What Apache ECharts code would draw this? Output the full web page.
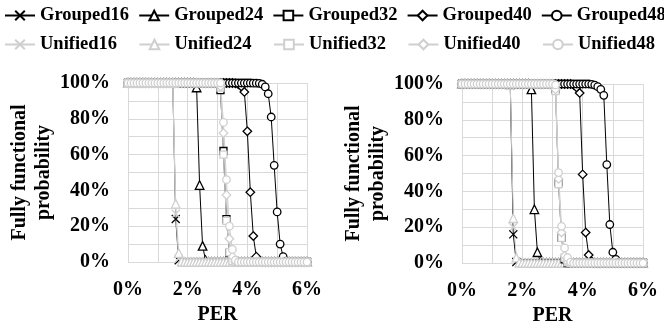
<!DOCTYPE html>
<html><head><meta charset="utf-8">
<script src="https://cdn.jsdelivr.net/npm/echarts@6/dist/echarts.min.js"></script>
<style>html,body{margin:0;padding:0;background:#fff}#c{width:664px;height:325px}</style>
</head><body><div id="c"></div>
<script>
// PER values (%), shared x positions
const PER = [0,0.1,0.2,0.3,0.4,0.5,0.6,0.7,0.8,0.9,
1,1.1,1.2,1.3,1.4,1.5,1.6,1.7,1.8,1.9,
2,2.1,2.2,2.3,2.4,2.5,2.6,2.7,2.8,2.9,
3,3.1,3.2,3.3,3.4,3.5,3.6,3.7,3.8,3.9,
4,4.1,4.2,4.3,4.4,4.5,4.6,4.7,4.8,4.9,
5,5.1,5.2,5.3,5.4,5.5,5.6,5.7,5.8,5.9,
6];
const GROUPED_NAMES = ['Grouped16','Grouped24','Grouped32','Grouped40','Grouped48'];
const UNIFIED_NAMES = ['Unified16','Unified24','Unified32','Unified40','Unified48'];

// ---- Left panel (fully functional probability, %) ----
const G16_L = [100,100,100,100,100,100,100,100,100,100,
100,100,100,100,100,100,24,1,0,0,
0,0,0,0,0,0,0,0,0,0,
0,0,0,0,0,0,0,0,0,0,
0,0,0,0,0,0,0,0,0,0,
0,0,0,0,0,0,0,0,0,0,
0];
const G24_L = [100,100,100,100,100,100,100,100,100,100,
100,100,100,100,100,100,100,100,100,100,
100,100,100,97.5,43,9,1,0,0,0,
0,0,0,0,0,0,0,0,0,0,
0,0,0,0,0,0,0,0,0,0,
0,0,0,0,0,0,0,0,0,0,
0];
const G32_L = [100,100,100,100,100,100,100,100,100,100,
100,100,100,100,100,100,100,100,100,100,
100,100,100,100,100,100,100,100,100,100,
99.5,96,62,24,5,0.5,0,0,0,0,
0,0,0,0,0,0,0,0,0,0,
0,0,0,0,0,0,0,0,0,0,
0];
const G40_L = [100,100,100,100,100,100,100,100,100,100,
100,100,100,100,100,100,100,100,100,100,
100,100,100,100,100,100,100,100,100,100,
100,100,100,100,100,100,99.8,99.3,98,95,
73,39,14.5,3,0.3,0,0,0,0,0,
0,0,0,0,0,0,0,0,0,0,
0];
const G48_L = [100,100,100,100,100,100,100,100,100,100,
100,100,100,100,100,100,100,100,100,100,
100,100,100,100,100,100,100,100,100,100,
100,100,100,100,100,100,100,100,100,100,
100,100,99.9,99.9,99.8,99.3,97.8,94,81,54,
28,10,3,0.5,0,0,0,0,0,0,
0];
const U16_L = [100,100,100,100,100,100,100,100,100,100,
100,100,100,100,100,100,27,2,0,0,
0,0,0,0,0,0,0,0,0,0,
0,0,0,0,0,0,0,0,0,0,
0,0,0,0,0,0,0,0,0,0,
0,0,0,0,0,0,0,0,0,0,
0];
const U24_L = [100,100,100,100,100,100,100,100,100,100,
100,100,100,100,100,100,32.5,5,0.3,0,
0,0,0,0,0,0,0,0,0,0,
0,0,0,0,0,0,0,0,0,0,
0,0,0,0,0,0,0,0,0,0,
0,0,0,0,0,0,0,0,0,0,
0];
const U32_L = [100,100,100,100,100,100,100,100,100,100,
100,100,100,100,100,100,100,100,100,100,
100,100,100,100,100,100,100,100,100,100,
100,97.4,60,23,5.5,0.5,0,0,0,0,
0,0,0,0,0,0,0,0,0,0,
0,0,0,0,0,0,0,0,0,0,
0];
const U40_L = [100,100,100,100,100,100,100,100,100,100,
100,100,100,100,100,100,100,100,100,100,
100,100,100,100,100,100,100,100,100,100,
100,98,72,37.5,13,3,0.3,0,0,0,
0,0,0,0,0,0,0,0,0,0,
0,0,0,0,0,0,0,0,0,0,
0];
const U48_L = [100,100,100,100,100,100,100,100,100,100,
100,100,100,100,100,100,100,100,100,100,
100,100,100,100,100,100,100,100,100,100,
100,100,78,46,20,7,1,0,0,0,
0,0,0,0,0,0,0,0,0,0,
0,0,0,0,0,0,0,0,0,0,
0];

// ---- Right panel ----
const G16_R = [100,100,100,100,100,100,100,100,100,100,
100,100,100,100,100,100,99.5,16,0.5,0,
0,0,0,0,0,0,0,0,0,0,
0,0,0,0,0,0,0,0,0,0,
0,0,0,0,0,0,0,0,0,0,
0,0,0,0,0,0,0,0,0,0,
0];
const G24_R = [100,100,100,100,100,100,100,100,100,100,
100,100,100,100,100,100,100,100,100,100,
100,100,100,97,30,6,0.5,0,0,0,
0,0,0,0,0,0,0,0,0,0,
0,0,0,0,0,0,0,0,0,0,
0,0,0,0,0,0,0,0,0,0,
0];
const G32_R = [100,100,100,100,100,100,100,100,100,100,
100,100,100,100,100,100,100,100,100,100,
100,100,100,100,100,100,100,100,100,100,
100,97,45,14,2,0,0,0,0,0,
0,0,0,0,0,0,0,0,0,0,
0,0,0,0,0,0,0,0,0,0,
0];
const G40_R = [100,100,100,100,100,100,100,100,100,100,
100,100,100,100,100,100,100,100,100,100,
100,100,100,100,100,100,100,100,100,100,
100,100,100,100,100,100,100,99.5,98,95,
49.5,17,4.5,0.8,0,0,0,0,0,0,
0,0,0,0,0,0,0,0,0,0,
0];
const G48_R = [100,100,100,100,100,100,100,100,100,100,
100,100,100,100,100,100,100,100,100,100,
100,100,100,100,100,100,100,100,100,100,
100,100,100,100,100,100,100,100,100,100,
100,100,100,99.8,99.4,98.5,97,93.7,55,21.5,
6,2,0.3,0,0,0,0,0,0,0,
0];
const U16_R = [100,100,100,100,100,100,100,100,100,100,
100,100,100,100,100,100,99,20,1,0,
0,0,0,0,0,0,0,0,0,0,
0,0,0,0,0,0,0,0,0,0,
0,0,0,0,0,0,0,0,0,0,
0,0,0,0,0,0,0,0,0,0,
0];
const U24_R = [100,100,100,100,100,100,100,100,100,100,
100,100,100,100,100,100,99.5,25,3,0.2,
0,0,0,0,0,0,0,0,0,0,
0,0,0,0,0,0,0,0,0,0,
0,0,0,0,0,0,0,0,0,0,
0,0,0,0,0,0,0,0,0,0,
0];
const U32_R = [100,100,100,100,100,100,100,100,100,100,
100,100,100,100,100,100,100,100,100,100,
100,100,100,100,100,100,100,100,100,100,
100,96,44,14,3,0.3,0,0,0,0,
0,0,0,0,0,0,0,0,0,0,
0,0,0,0,0,0,0,0,0,0,
0];
const U40_R = [100,100,100,100,100,100,100,100,100,100,
100,100,100,100,100,100,100,100,100,100,
100,100,100,100,100,100,100,100,100,100,
100,97,47,17,4,0.5,0,0,0,0,
0,0,0,0,0,0,0,0,0,0,
0,0,0,0,0,0,0,0,0,0,
0];
const U48_R = [100,100,100,100,100,100,100,100,100,100,
100,100,100,100,100,100,100,100,100,100,
100,100,100,100,100,100,100,100,100,100,
100,99.5,50.5,20.5,8.4,3,0.5,0,0,0,
0,0,0,0,0,0,0,0,0,0,
0,0,0,0,0,0,0,0,0,0,
0];

const FONT = 'Liberation Serif';
const BLACK = '#000000';
const GRAY = '#cfcfcf';
const GRID_C = '#d9d9d9';
const SYMBOLS = ['path://M0,0L10,10M10,0L0,10','triangle','rect','diamond','circle'];
const SIZES = [8, 8.5, 7, [8.5,8.5], 7.5];

function mk(name, vals, idx, k, color, z){
  return {
    name, type:'line', xAxisIndex: idx, yAxisIndex: idx,
    data: PER.map((x,i)=>[x, vals[i]]),
    symbol: SYMBOLS[k], symbolSize: SIZES[k], showAllSymbol: true,
    lineStyle: {color, width: 1},
    itemStyle: {color: '#ffffff', borderColor: color, borderWidth: 1.3},
    emphasis: {disabled: true}, silent: true, z: z, animation: false
  };
}
const G_L = [G16_L,G24_L,G32_L,G40_L,G48_L];
const U_L = [U16_L,U24_L,U32_L,U40_L,U48_L];
const G_R = [G16_R,G24_R,G32_R,G40_R,G48_R];
const U_R = [U16_R,U24_R,U32_R,U40_R,U48_R];

const series = [];
for (let k=0;k<5;k++) series.push(mk(GROUPED_NAMES[k], G_L[k], 0, k, BLACK, 2));
for (let k=0;k<5;k++) series.push(mk(UNIFIED_NAMES[k], U_L[k], 0, k, GRAY, 2));
// right panel
series.push(mk(UNIFIED_NAMES[0], U_R[0], 1, 0, GRAY, 2));
series.push(mk(GROUPED_NAMES[0], G_R[0], 1, 0, BLACK, 2));
series.push(mk(GROUPED_NAMES[1], G_R[1], 1, 1, BLACK, 2));
series.push(mk(UNIFIED_NAMES[1], U_R[1], 1, 1, GRAY, 2));
for (let k=2;k<5;k++) series.push(mk(GROUPED_NAMES[k], G_R[k], 1, k, BLACK, 2));
for (let k=2;k<5;k++) series.push(mk(UNIFIED_NAMES[k], U_R[k], 1, k, GRAY, 2));

const labelStyle = {fontFamily: FONT, fontWeight: 'bold', fontSize: 20, color: '#000'};
function xAx(idx){
  return {type:'value', gridIndex: idx, min:0, max:6, interval:2,
    axisLine:{show:false}, axisTick:{show:false},
    minorTick:{show:false, splitNumber:2},
    splitLine:{show:true, lineStyle:{color:GRID_C, width:1}},
    minorSplitLine:{show:true, lineStyle:{color:GRID_C, width:1}},
    axisLabel:Object.assign({margin:18, formatter:'{value}%'}, labelStyle),
    name:'PER', nameLocation:'middle', nameGap:43, nameTextStyle: labelStyle};
}
function yAx(idx){
  return {type:'value', gridIndex: idx, min:0, max:100, interval:20,
    axisLine:{show:false}, axisTick:{show:false},
    minorTick:{show:false, splitNumber:2},
    splitLine:{show:true, lineStyle:{color:GRID_C, width:1}},
    minorSplitLine:{show:true, lineStyle:{color:GRID_C, width:1}},
    axisLabel:Object.assign({margin:18, formatter:'{value}%'}, labelStyle),
    name:'Fully functional\nprobability', nameLocation:'middle', nameRotate:90, nameGap:60,
    nameTextStyle: Object.assign({lineHeight:24}, labelStyle)};
}
const legendText = {fontFamily: FONT, fontWeight: 'bold', fontSize: 18.5, color: '#000'};
const option = {
  animation: false,
  backgroundColor: '#fff',
  legend: [
    {data: GROUPED_NAMES, left: 4, top: 6, padding: 0, width: 700, itemWidth: 30, itemHeight: 12, itemGap: 9.1, textStyle: legendText, selectedMode:false},
    {data: UNIFIED_NAMES, left: 4, top: 35, padding: 0, width: 700, itemWidth: 30, itemHeight: 12, itemGap: 21.4, textStyle: legendText, selectedMode:false}
  ],
  grid: [
    {left: 128, top: 83, width: 179, height: 179, outerBoundsMode: 'none', containLabel: false},
    {left: 462, top: 84, width: 181, height: 179, outerBoundsMode: 'none', containLabel: false}
  ],
  xAxis: [xAx(0), xAx(1)],
  yAxis: [yAx(0), yAx(1)],
  series
};
const chart = echarts.init(document.getElementById('c'), null, {renderer:'canvas'});
chart.setOption(option);
</script></body></html>
